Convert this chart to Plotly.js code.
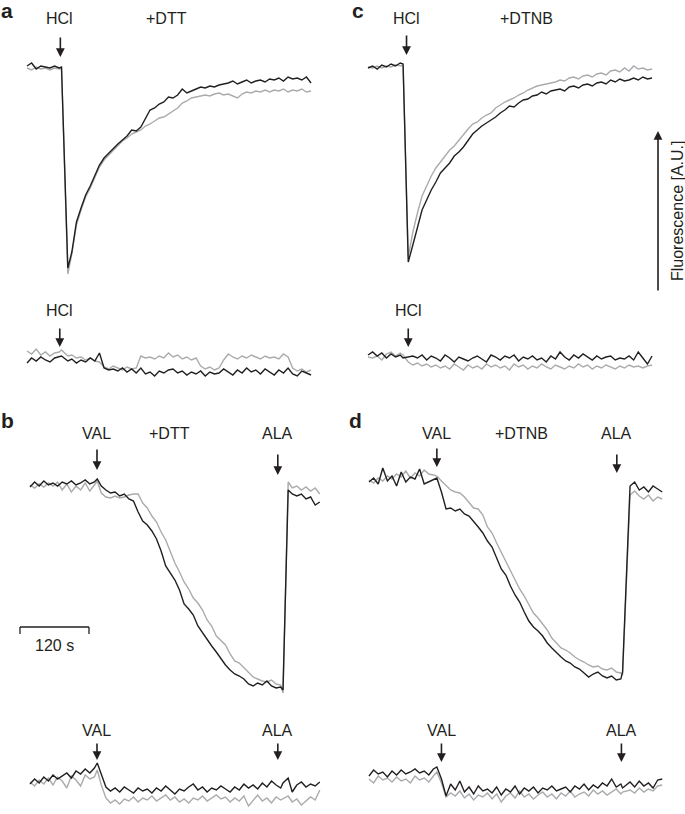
<!DOCTYPE html>
<html>
<head>
<meta charset="utf-8">
<script src="https://cdn.plot.ly/plotly-3.0.1.min.js"></script>
<style>html,body{margin:0;padding:0;background:#fff;}#chart{width:685px;height:814px;}</style>
</head>
<body>
<div id="chart"></div>
<script>
// ---------- time axes (s) ----------
const tA = [0,8,16,24,32,40,48,56,60,71,78,86,94,102,110,118,126,134,142,150,158,166,174,182,190,198,206,214,222,230,238,246,254,262,270,278,286,294,302,310,318,326,334,342,350,358,366,374,382,390,398,406,414,422,430,438,446,454,462,470,478,486,494];
const tC = [0,8,16,24,32,40,48,56,61,70,78,86,94,102,110,118,126,134,142,150,158,166,174,182,190,198,206,214,222,230,238,246,254,262,270,278,286,294,302,310,318,326,334,342,350,358,366,374,382,390,398,406,414,422,430,438,446,454,462,470,478,486,494];
const tB = [0,8,16,24,32,40,48,56,64,72,80,88,96,104,112,117,124,132,140,148,156,164,172,180,188,196,204,212,220,228,236,244,252,260,268,276,284,292,300,308,316,324,332,340,348,356,364,372,380,388,396,404,412,420,428,436,440,449,456,464,472,480,488,496,504];
const tD = [0,8,16,24,32,40,48,56,64,72,80,88,96,104,112,118,126,134,142,150,158,166,174,182,190,198,206,214,222,230,238,246,254,262,270,278,286,294,302,310,318,326,334,342,350,358,366,374,382,390,398,406,414,422,430,438,441,454,462,470,478,486,494,502,510];

// ---------- fluorescence (A.U.) ----------
// panel a (+DTT, HCl)
const aMainBlack = [334,337,331,334,333,332,334,332,333,132,148,178,192,205,214,225,235,242,247,251,256,260,264,270,269,273,282,290,292,296,298,303,302,305,311,307,309,311,313,312,314,313,315,316,317,319,316,318,320,317,319,320,318,321,320,322,319,323,321,322,320,323,317];
const aMainGrey  = [332,330,333,331,332,330,332,331,332,126,146,175,190,203,212,222,233,240,245,250,254,259,262,266,268,270,274,276,279,282,283,286,289,292,297,299,302,303,304,305,304,306,307,305,306,304,302,306,308,307,309,308,310,308,310,309,311,308,310,309,311,308,309];
const aLowBlack  = [37,42,39,43,40,38,42,43,44,39,41,37,40,38,42,39,47,32,30,31,29,32,28,31,27,32,26,28,24,29,27,30,31,27,29,25,28,26,29,24,28,26,27,31,28,25,30,27,32,28,30,26,31,28,25,30,27,32,26,24,29,27,25];
const aLowGrey   = [49,46,51,45,48,44,47,48,50,44,45,42,43,40,42,39,38,33,31,34,32,30,33,31,32,44,42,43,41,44,42,47,43,45,41,43,40,42,34,31,33,30,32,40,46,43,41,44,42,45,43,41,44,42,43,41,46,43,32,29,31,28,30];
// panel c (+DTNB, HCl)
const cMainBlack = [332,334,331,335,333,336,334,337,336,138,155,172,190,200,210,218,227,232,237,244,248,253,260,266,270,274,277,280,283,287,290,294,293,297,300,301,304,305,308,306,309,310,311,309,313,314,312,315,316,314,317,318,316,320,318,321,319,320,322,320,323,321,322];
const cMainGrey  = [333,332,334,332,334,333,335,334,334,143,168,187,204,214,224,232,238,244,250,254,260,265,271,276,278,282,285,287,292,295,298,300,302,305,307,310,312,314,315,316,317,318,320,319,322,323,321,324,325,323,326,327,325,329,330,328,332,329,334,331,332,330,331];
const cLowBlack  = [45,48,44,47,42,46,43,45,42,43,44,42,45,40,44,42,39,45,42,38,43,41,39,42,44,41,38,45,43,40,44,42,45,39,43,41,44,40,42,38,44,41,48,43,40,45,42,46,43,40,44,41,43,44,40,42,41,44,40,48,42,36,44];
const cLowGrey   = [43,42,44,40,46,48,44,47,45,38,35,37,34,36,33,35,32,34,31,36,33,30,35,32,34,31,36,33,35,32,34,30,36,33,35,31,34,32,36,33,31,35,33,31,34,32,36,33,35,31,34,32,35,33,31,34,32,35,33,34,32,34,35];
// panel b (+DTT, VAL / ALA)
const bMainBlack = [327,332,328,333,329,331,328,332,330,333,329,331,334,330,332,335,328,324,321,322,318,320,315,313,302,293,289,283,275,263,248,241,234,224,210,205,199,188,181,174,168,162,155,149,144,140,138,135,130,128,131,129,133,128,126,127,124,324,320,318,320,315,317,309,312];
const bMainGrey  = [329,326,330,327,331,328,332,324,330,322,328,324,331,323,329,333,321,317,316,318,316,317,319,320,320,311,306,298,292,282,274,263,251,242,232,225,216,211,204,194,188,178,173,169,160,153,151,146,142,137,135,133,132,134,130,129,121,332,326,328,324,327,323,326,320];
const bLowBlack  = [30,35,31,37,33,39,35,38,41,36,43,40,45,41,46,51,39,27,23,26,22,27,24,21,26,23,25,21,26,23,28,24,20,25,23,27,30,24,27,22,26,24,28,25,22,27,24,30,26,29,25,31,27,33,29,26,31,36,22,29,32,27,30,28,32];
const bLowGrey   = [32,28,34,30,36,29,37,33,26,38,34,28,39,35,37,44,29,16,11,14,10,15,13,17,12,16,14,18,13,16,19,14,17,12,15,11,16,14,18,13,16,19,15,17,12,16,13,18,8,14,19,13,16,11,17,14,15,18,12,15,9,13,17,14,24];
// panel d (+DTNB, VAL / ALA)
const dMainBlack = [332,336,330,346,333,338,328,342,332,337,335,345,330,332,334,336,322,305,306,303,305,300,298,293,287,281,273,267,256,245,239,228,219,212,202,193,187,183,178,171,166,161,157,153,151,147,145,141,137,140,142,138,136,138,134,135,142,328,332,324,327,322,328,325,322];
const dMainGrey  = [334,331,336,333,338,335,340,337,343,336,341,338,344,340,339,338,333,328,324,322,321,317,312,306,305,299,287,281,271,262,253,244,234,225,218,210,201,196,190,184,176,171,166,164,161,157,154,152,149,147,148,145,144,146,142,141,139,319,323,318,315,319,313,317,315];
const dLowBlack  = [38,44,40,42,37,43,39,44,40,42,45,41,43,39,45,47,35,18,30,24,33,22,27,20,28,23,25,21,27,19,25,22,28,20,26,23,27,21,26,24,28,23,25,27,22,28,25,30,24,29,26,31,28,35,27,30,26,32,27,33,28,31,26,34,35];
const dLowGrey   = [35,31,38,34,36,32,37,33,35,31,38,34,36,32,38,42,31,17,21,18,23,16,20,14,19,17,21,15,20,12,18,21,16,23,17,20,15,19,22,17,20,15,21,18,23,17,20,22,18,24,20,23,19,22,25,20,22,24,21,26,22,25,23,28,29];

// ---------- labels ----------
const panelLetters = ['a','c','b','d'];
const treatA = '+DTT', treatC = '+DTNB', treatB = '+DTT', treatD = '+DTNB';
const acidLabel = 'HCl', valLabel = 'VAL', alaLabel = 'ALA';
const scaleLabel = '120 s', scaleSeconds = 120;
const yLabel = 'Fluorescence [A.U.]';

const INK = '#231f20', GREY = '#a9abae';
const LW = 1.4;

function tr(x, y, ax, col) {
  return {x: x, y: y, xaxis: 'x' + ax, yaxis: 'y' + ax, type: 'scatter', mode: 'lines',
          line: {color: col, width: LW}, hoverinfo: 'skip', showlegend: false};
}
const data = [
  tr(tA, aMainGrey, '', GREY), tr(tA, aMainBlack, '', INK),
  tr(tA, aLowGrey, '', GREY), tr(tA, aLowBlack, '', INK),
  tr(tC, cMainGrey, '2', GREY), tr(tC, cMainBlack, '2', INK),
  tr(tC, cLowGrey, '2', GREY), tr(tC, cLowBlack, '2', INK),
  tr(tB, bMainGrey, '3', GREY), tr(tB, bMainBlack, '3', INK),
  tr(tB, bLowGrey, '3', GREY), tr(tB, bLowBlack, '3', INK),
  tr(tD, dMainGrey, '4', GREY), tr(tD, dMainBlack, '4', INK),
  tr(tD, dLowGrey, '4', GREY), tr(tD, dLowBlack, '4', INK)
];

const FONT = 'Liberation Sans, Arial, Helvetica, sans-serif';
const FS = 16;
function ax(domain, range, anchor) {
  return {domain: domain, range: range, visible: false, showgrid: false, zeroline: false, fixedrange: true, anchor: anchor};
}
const L = 340/685;
const layout = {
  width: 685, height: 814,
  margin: {l: 0, r: 0, t: 0, b: 0},
  paper_bgcolor: '#fff', plot_bgcolor: 'rgba(0,0,0,0)',
  showlegend: false,
  font: {family: FONT, color: INK, size: FS},
  xaxis:  ax([0, L], [-46.96, 544.35], 'y'),
  yaxis:  ax([1 - 400/814, 1], [0, 400], 'x'),
  xaxis2: ax([L, 1], [-48.70, 551.30], 'y2'),
  yaxis2: ax([1 - 400/814, 1], [0, 400], 'x2'),
  xaxis3: ax([0, L], [-52.17, 539.13], 'y3'),
  yaxis3: ax([0, 1 - 400/814], [0, 414], 'x3'),
  xaxis4: ax([L, 1], [-50.43, 549.57], 'y4'),
  yaxis4: ax([0, 1 - 400/814], [0, 414], 'x4'),
  shapes: [], annotations: []
};

function label(n, x, y, text) {
  layout.annotations.push({xref: 'x' + n, yref: 'y' + n, x: x, y: y, text: text, showarrow: false,
    xanchor: 'center', yanchor: 'middle', font: {family: FONT, size: FS, color: INK}});
}
function arrow(n, x, y, len) {
  layout.annotations.push({xref: 'x' + n, yref: 'y' + n, x: x, y: y, text: '', showarrow: true,
    ax: 0, ay: -len, arrowhead: 2, arrowsize: 1.1, arrowwidth: 1.6, arrowcolor: INK, standoff: 0});
}
// panel a
label('', 57, 382, acidLabel); arrow('', 58, 343, 21); label('', 243, 382, treatA);
label('', 57, 90, acidLabel);  arrow('', 57, 53, 20);
// panel c
label('2', 67, 382, acidLabel); arrow('2', 67, 345, 21); label('2', 276, 382, treatC);
label('2', 70, 90, acidLabel);  arrow('2', 70, 53, 20);
// panel b
label('3', 116.5, 381, valLabel); arrow('3', 116.5, 344, 22); label('3', 242, 381, treatB);
label('3', 431, 381, alaLabel);   arrow('3', 431, 339, 22);
label('3', 116.5, 84, valLabel);  arrow('3', 116.5, 54, 18);
label('3', 431, 84, alaLabel);    arrow('3', 431, 54, 18);
// panel d
label('4', 118, 381, valLabel); arrow('4', 118, 347, 20); label('4', 266, 381, treatD);
label('4', 431, 381, alaLabel); arrow('4', 431, 341, 20);
label('4', 126, 84, valLabel);  arrow('4', 126, 52, 20);
label('4', 439, 84, alaLabel);  arrow('4', 439, 52, 20);

// scale bar in panel b (time axis)
const sb0 = -17.4, sbY = 187, sbTick = 7;
layout.shapes.push({type: 'line', xref: 'x3', yref: 'y3', x0: sb0, x1: sb0 + scaleSeconds, y0: sbY, y1: sbY, line: {color: INK, width: 1.3}});
layout.shapes.push({type: 'line', xref: 'x3', yref: 'y3', x0: sb0, x1: sb0, y0: sbY, y1: sbY - sbTick, line: {color: INK, width: 1.3}});
layout.shapes.push({type: 'line', xref: 'x3', yref: 'y3', x0: sb0 + scaleSeconds, x1: sb0 + scaleSeconds, y0: sbY, y1: sbY - sbTick, line: {color: INK, width: 1.3}});
label('3', sb0 + scaleSeconds / 2, 169, scaleLabel);

// panel letters
const letterPos = [[7, 11], [358, 11], [7, 420], [355, 420]];
panelLetters.forEach((s, i) => {
  layout.annotations.push({xref: 'paper', yref: 'paper', x: letterPos[i][0] / 685, y: 1 - letterPos[i][1] / 814,
    text: '<b>' + s + '</b>', showarrow: false, xanchor: 'center', yanchor: 'middle',
    font: {family: FONT, size: 21, color: INK}});
});

// fluorescence axis arrow
layout.annotations.push({xref: 'paper', yref: 'paper', x: 658 / 685, y: 1 - 131 / 814, text: '', showarrow: true,
  ax: 0, ay: 161, arrowhead: 2, arrowsize: 1.1, arrowwidth: 1.6, arrowcolor: INK, standoff: 0});
layout.annotations.push({xref: 'paper', yref: 'paper', x: 677 / 685, y: 1 - 211 / 814, text: yLabel, textangle: -90,
  showarrow: false, xanchor: 'center', yanchor: 'middle', font: {family: FONT, size: 16, color: INK}});

Plotly.newPlot('chart', data, layout, {staticPlot: true, displayModeBar: false});
</script>
</body>
</html>
